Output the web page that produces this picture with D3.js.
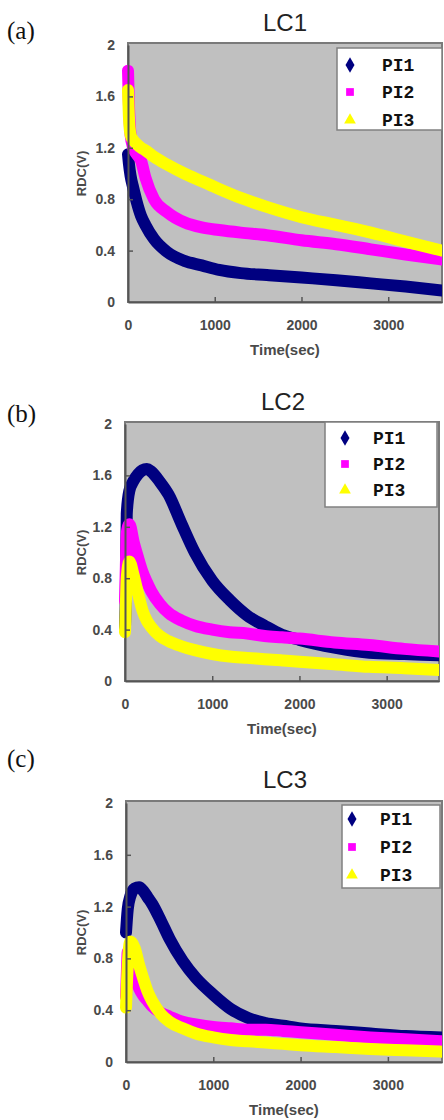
<!DOCTYPE html>
<html>
<head>
<meta charset="utf-8">
<script src="https://cdn.jsdelivr.net/npm/d3@7"></script>
<style>
  body { margin: 0; background: #fff; }
  svg { display: block; }
</style>
</head>
<body>
<script>
// series / axis labels
var seriesNames = ['PI1', 'PI2', 'PI3'];
var yTicks = [0, 0.4, 0.8, 1.2, 1.6, 2];
var xTicks = [0, 1000, 2000, 3000];

// (a) LC1  -- time in sec, RDC in V
var timeA = [0, 10, 30, 60, 100, 150, 200, 300, 450, 650, 850, 1050, 1300, 1600, 2000, 2400, 2800, 3200, 3620];
var pi1A = [1.15, 1.08, 0.98, 0.89, 0.78, 0.67, 0.6, 0.49, 0.39, 0.32, 0.285, 0.25, 0.225, 0.21, 0.19, 0.17, 0.145, 0.12, 0.09];
var pi2A = [1.8, 1.55, 1.3, 1.2, 1.15, 1.1, 0.97, 0.8, 0.7, 0.62, 0.58, 0.56, 0.54, 0.52, 0.48, 0.45, 0.41, 0.37, 0.33];
var pi3A = [1.65, 1.45, 1.3, 1.26, 1.23, 1.2, 1.18, 1.13, 1.07, 1.0, 0.94, 0.88, 0.81, 0.74, 0.66, 0.6, 0.54, 0.47, 0.4];

// (b) LC2
var timeB = [0, 10, 20, 50, 100, 150, 200, 250, 300, 400, 500, 650, 800, 1000, 1200, 1400, 1600, 1800, 2000, 2400, 2800, 3200, 3600];
var pi1B = [0.42, 0.7, 1.3, 1.48, 1.56, 1.61, 1.64, 1.65, 1.63, 1.55, 1.45, 1.22, 1.0, 0.78, 0.63, 0.51, 0.43, 0.36, 0.32, 0.26, 0.22, 0.21, 0.2];
var pi2B = [0.62, 0.9, 1.15, 1.22, 1.08, 0.96, 0.85, 0.77, 0.7, 0.6, 0.53, 0.47, 0.43, 0.4, 0.38, 0.37, 0.35, 0.34, 0.33, 0.3, 0.28, 0.25, 0.23];
var pi3B = [0.38, 0.6, 0.8, 0.93, 0.82, 0.68, 0.55, 0.47, 0.42, 0.35, 0.31, 0.27, 0.24, 0.21, 0.19, 0.18, 0.17, 0.16, 0.15, 0.13, 0.11, 0.1, 0.085];

// (c) LC3
var timeC = [0, 10, 20, 50, 100, 150, 200, 250, 300, 400, 500, 650, 800, 1000, 1200, 1400, 1600, 1800, 2000, 2400, 2800, 3200, 3620];
var pi1C = [1.0, 1.1, 1.18, 1.28, 1.34, 1.35, 1.32, 1.27, 1.22, 1.09, 0.95, 0.78, 0.65, 0.52, 0.41, 0.34, 0.3, 0.28, 0.26, 0.24, 0.22, 0.2, 0.19];
var pi2C = [0.5, 0.7, 0.85, 0.76, 0.66, 0.57, 0.51, 0.47, 0.43, 0.38, 0.35, 0.31, 0.29, 0.27, 0.26, 0.25, 0.25, 0.24, 0.23, 0.21, 0.19, 0.175, 0.16];
var pi3C = [0.42, 0.6, 0.75, 0.93, 0.88, 0.75, 0.64, 0.54, 0.47, 0.37, 0.31, 0.26, 0.22, 0.19, 0.17, 0.16, 0.15, 0.14, 0.13, 0.115, 0.1, 0.09, 0.08];

var colors = ['#000080', '#ff00ff', '#ffff00'];
var symbols = [d3.symbolDiamond, d3.symbolSquare, d3.symbolTriangle];

var panels = [
  { tag: '(a)', tagY: 39, title: 'LC1', titleX: 285, titleY: 31,
    left: 128, top: 45, width: 314, height: 257, xMax: 3620,
    time: timeA, values: [pi1A, pi2A, pi3A],
    legend: { x: 337, y: 48, w: 105, h: 82, mx: 13, tx: 45, rows: [17, 44, 72] } },
  { tag: '(b)', tagY: 422, title: 'LC2', titleX: 283, titleY: 410,
    left: 125, top: 424, width: 314, height: 257, xMax: 3600,
    time: timeB, values: [pi1B, pi2B, pi3B],
    legend: { x: 325, y: 422, w: 112, h: 85, mx: 20, tx: 48, rows: [16, 42, 68] } },
  { tag: '(c)', tagY: 767, title: 'LC3', titleX: 285, titleY: 788,
    left: 126, top: 803, width: 316, height: 259, xMax: 3620,
    time: timeC, values: [pi1C, pi2C, pi3C],
    legend: { x: 342, y: 805, w: 98, h: 83, mx: 10, tx: 38, rows: [14, 42, 70] } }
];

var svg = d3.select('body').append('svg')
  .attr('width', 444)
  .attr('height', 1120);

function drawPanel(p, idx) {
  var x = d3.scaleLinear().domain([0, p.xMax]).range([p.left, p.left + p.width]);
  var y = d3.scaleLinear().domain([0, 2]).range([p.top + p.height, p.top]);
  var bottom = p.top + p.height;

  svg.append('text')
    .attr('x', 7).attr('y', p.tagY)
    .style('font-family', '"Liberation Serif", "Times New Roman", serif')
    .style('font-size', '25px')
    .style('fill', '#111')
    .text(p.tag);

  svg.append('text')
    .attr('x', p.titleX).attr('y', p.titleY)
    .attr('text-anchor', 'middle')
    .style('font-family', '"Liberation Sans", Arial, sans-serif')
    .style('font-size', '24px')
    .style('fill', '#222')
    .text(p.title);

  // plot background + frame
  svg.append('rect')
    .attr('x', p.left).attr('y', p.top - 2)
    .attr('width', p.width).attr('height', p.height + 2)
    .style('fill', '#c0c0c0')
    .style('stroke', '#7a7a7a')
    .style('stroke-width', 2);

  var clipId = 'clip' + idx;
  svg.append('clipPath').attr('id', clipId)
    .append('rect')
    .attr('x', p.left - 6).attr('y', p.top - 2)
    .attr('width', p.width + 6).attr('height', p.height + 2);

  var line = d3.line()
    .x(function(d) { return x(d[0]); })
    .y(function(d) { return y(d[1]); })
    .curve(d3.curveMonotoneX);

  var g = svg.append('g').attr('clip-path', 'url(#' + clipId + ')');
  p.values.forEach(function(vals, i) {
    var pts = vals.map(function(v, j) { return [p.time[j], v]; });
    g.append('path')
      .datum(pts)
      .attr('d', line)
      .style('fill', 'none')
      .style('stroke', colors[i])
      .style('stroke-width', 12)
      .style('stroke-linejoin', 'round')
      .style('stroke-linecap', 'round');
  });

  // axes
  var yAxis = svg.append('g')
    .attr('transform', 'translate(' + p.left + ',0)')
    .call(d3.axisLeft(y).tickValues(yTicks).tickFormat(d3.format('~g'))
      .tickSize(-5).tickSizeOuter(0).tickPadding(13));
  var xAxis = svg.append('g')
    .attr('transform', 'translate(0,' + bottom + ')')
    .call(d3.axisBottom(x).tickValues(xTicks).tickFormat(d3.format('d'))
      .tickSize(-5).tickSizeOuter(0).tickPadding(18));

  [yAxis, xAxis].forEach(function(ax) {
    ax.select('.domain').style('stroke', '#555').style('stroke-width', 2);
    ax.selectAll('.tick line').style('stroke', '#555').style('stroke-width', 1.5);
    ax.selectAll('.tick text')
      .style('font-family', '"Liberation Sans", Arial, sans-serif')
      .style('font-size', '14px')
      .style('font-weight', 'bold')
      .style('fill', '#4a4a4a');
  });
  xAxis.selectAll('.tick').filter(function(d) { return d === 0; }).select('line').remove();
  yAxis.selectAll('.tick').filter(function(d) { return d === 0 || d === 2; }).select('line').remove();

  svg.append('text')
    .attr('transform', 'translate(81,' + (p.top + p.height / 2) + ') rotate(-90)')
    .attr('text-anchor', 'middle')
    .attr('dy', '0.35em')
    .style('font-family', '"Liberation Sans", Arial, sans-serif')
    .style('font-size', '13px')
    .style('font-weight', 'bold')
    .style('fill', '#4a4a4a')
    .text('RDC(V)');

  svg.append('text')
    .attr('x', p.left + p.width / 2).attr('y', bottom + 53)
    .attr('text-anchor', 'middle')
    .style('font-family', '"Liberation Sans", Arial, sans-serif')
    .style('font-size', '15px')
    .style('font-weight', 'bold')
    .style('fill', '#4a4a4a')
    .text('Time(sec)');

  // legend
  var L = p.legend;
  var lg = svg.append('g').attr('transform', 'translate(' + L.x + ',' + L.y + ')');
  lg.append('rect')
    .attr('width', L.w).attr('height', L.h)
    .style('fill', '#fff')
    .style('stroke', '#808080')
    .style('stroke-width', 1.5);
  seriesNames.forEach(function(name, i) {
    lg.append('path')
      .attr('transform', 'translate(' + L.mx + ',' + L.rows[i] + ')')
      .attr('d', d3.symbol().type(symbols[i]).size(i === 0 ? 70 : 60)())
      .style('fill', colors[i]);
    lg.append('text')
      .attr('x', L.tx).attr('y', L.rows[i])
      .attr('dy', '0.35em')
      .style('font-family', '"Liberation Mono", "Courier New", monospace')
      .style('font-size', '18px')
      .style('font-weight', 'bold')
      .style('fill', '#111')
      .text(name);
  });
}

panels.forEach(drawPanel);
</script>
</body>
</html>
